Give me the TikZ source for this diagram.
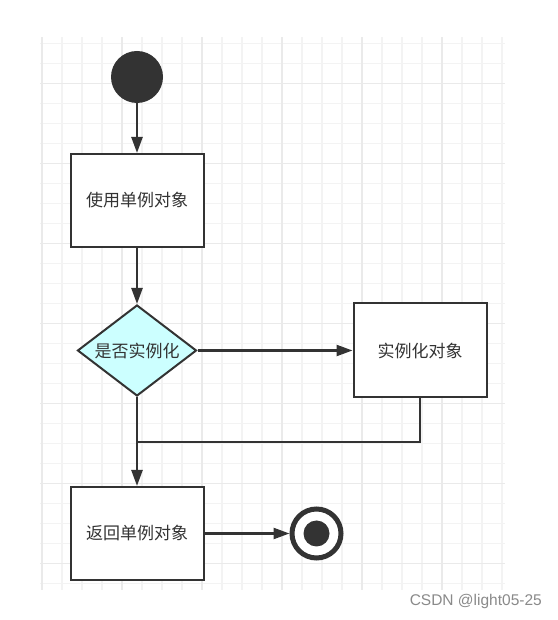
\documentclass[tikz,border=0pt]{standalone}
\usepackage{fontspec}
\usepackage{tikz}
\usetikzlibrary{positioning,arrows.meta,shapes.geometric}
\newfontfamily\cjk{Noto Sans CJK SC}
\newfontfamily\wmfont{Liberation Sans}
\definecolor{ink}{HTML}{333333}
\definecolor{cyanLite}{HTML}{CCFFFF}
\definecolor{gridMinor}{HTML}{F3F3F3}
\definecolor{gridMajor}{HTML}{EAEAEA}
\definecolor{mark}{HTML}{8A8A8A}

\begin{document}
\begin{tikzpicture}[x=1pt,y=1pt,
    actbox/.style={draw=ink,fill=white,line width=2pt,minimum width=133pt,
      minimum height=93pt,inner sep=0pt,text=ink,font=\cjk\fontsize{17}{19}\selectfont},
    flow/.style={draw=ink,line width=2.4pt,-{Triangle[length=16pt,width=11pt]}}]
  \useasboundingbox[fill=white] (0,0) rectangle (557,620);
  % background grid
  \begin{scope}
    \clip (40,30) rectangle (505,583);
    \foreach \i in {0,...,23}
      \draw[line width=1.2pt,gridMinor] (42+20*\i,30) -- (42+20*\i,583);
    \foreach \j in {0,...,27}
      \draw[line width=1.2pt,gridMinor] (40,576.7-20*\j) -- (505,576.7-20*\j);
    \foreach \i in {0,...,5}
      \draw[line width=1.2pt,gridMajor] (42+80*\i,30) -- (42+80*\i,583);
    \foreach \j in {0,...,6}
      \draw[line width=1.2pt,gridMajor] (40,536.7-80*\j) -- (505,536.7-80*\j);
  \end{scope}

  \node (start) [circle,fill=ink,minimum size=52pt,inner sep=0pt,outer sep=0pt] at (137,543) {};
  \node (use) [actbox,below=50pt of start] {使用单例对象};
  \node (check) [diamond,draw=ink,fill=cyanLite,line width=2pt,aspect=1.3,inner sep=0pt,
    minimum width=119pt,minimum height=91pt,text=ink,
    font=\cjk\fontsize{17}{19}\selectfont,below=56pt of use] {是否实例化};
  \node (make) [actbox,minimum height=94pt,right=155pt of check] {实例化对象};
  \node (ret) [actbox,below=89pt of check] {返回单例对象};
  \node (stop) [circle,draw=ink,line width=5pt,fill=white,minimum size=49pt,
    inner sep=0pt,right=85pt of ret] {};
  \node (stopdot) [circle,fill=ink,minimum size=26pt,inner sep=0pt] at (stop.center) {};

  \draw[flow] (start) -- (use);
  \draw[flow] (use) -- (check);
  \draw[flow] (check) -- (make);
  \draw[flow] (check) -- (ret);
  \draw[draw=ink,line width=2pt] (make.south) |- (check.south |- 0,178);
  \draw[flow] (ret) -- (stop);

  \node (csdn) [anchor=east,text=mark,font=\wmfont\fontsize{15.5}{17}\selectfont,
    inner sep=0pt] at (542,19) {CSDN @light05-25};
\end{tikzpicture}
\end{document}
